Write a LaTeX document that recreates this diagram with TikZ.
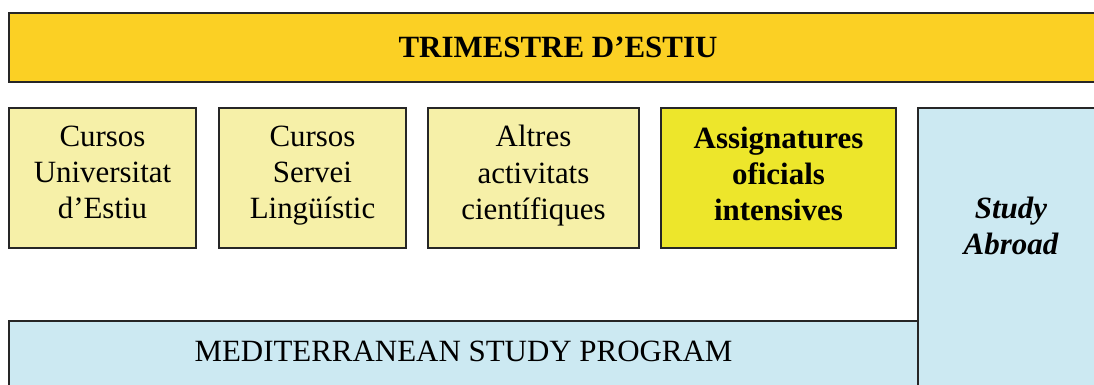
\documentclass[tikz,border=0pt]{standalone}
\usepackage{fontspec}
\setmainfont{Liberation Serif}
\usetikzlibrary{positioning}
\definecolor{summergold}{RGB}{251,208,36}
\definecolor{paleyellow}{RGB}{246,240,168}
\definecolor{brightyellow}{RGB}{237,230,43}
\definecolor{paleblue}{RGB}{204,233,242}
\tikzstyle{frame}=[draw=black!85,line width=1.3pt,inner sep=0pt,outer sep=0pt]
\tikzstyle{topbar}=[frame,fill=summergold,font=\fontsize{22}{25}\selectfont\bfseries]
\tikzstyle{course}=[frame,fill=paleyellow,align=center,text depth=8pt,minimum height=140*0.025cm,font=\fontsize{22}{25.8}\selectfont]
\tikzstyle{official}=[course,fill=brightyellow,text depth=6pt,font=\fontsize{22}{25.8}\selectfont\bfseries]
\tikzstyle{program}=[frame,fill=paleblue]
\tikzstyle{label}=[inner sep=0pt,align=center]

\begin{document}
\begin{tikzpicture}[x=0.025cm,y=-0.025cm]
    \useasboundingbox (0,0) rectangle (1094,385);
    \clip (0,0) rectangle (1094,385);

    % the summer term bar
    \node[topbar,minimum width=1098*0.025cm,minimum height=69*0.025cm] (term) at (558,47.5) {TRIMESTRE D'ESTIU};

    % the four kinds of course
    \node[course,minimum width=187*0.025cm] (univ) at (102.5,178) {Cursos\\Universitat\\d'Estiu};
    \node[course,minimum width=187*0.025cm] (lang) at (312.5,178) {Cursos\\Servei\\Lingüístic};
    \node[course,minimum width=211*0.025cm] (other) at (533.5,178) {Altres\\activitats\\científiques};
    \node[official,minimum width=235*0.025cm] (intens) at (778.5,178) {Assignatures\\oficials\\intensives};

    % programs for visiting students
    \node[program,minimum width=909*0.025cm,minimum height=79*0.025cm] (med) at (463.5,360.5) {};
    \node[label,font=\fontsize{22}{25}\selectfont] (medtext) at (463.5,351) {MEDITERRANEAN STUDY PROGRAM};
    \node[program,minimum width=186*0.025cm,minimum height=312*0.025cm] (abroad) at (1011,264) {};
    \node[label,font=\fontsize{22}{25}\selectfont\bfseries\itshape] (abroadtext) at (1011,226) {Study\\Abroad};
\end{tikzpicture}
\end{document}
